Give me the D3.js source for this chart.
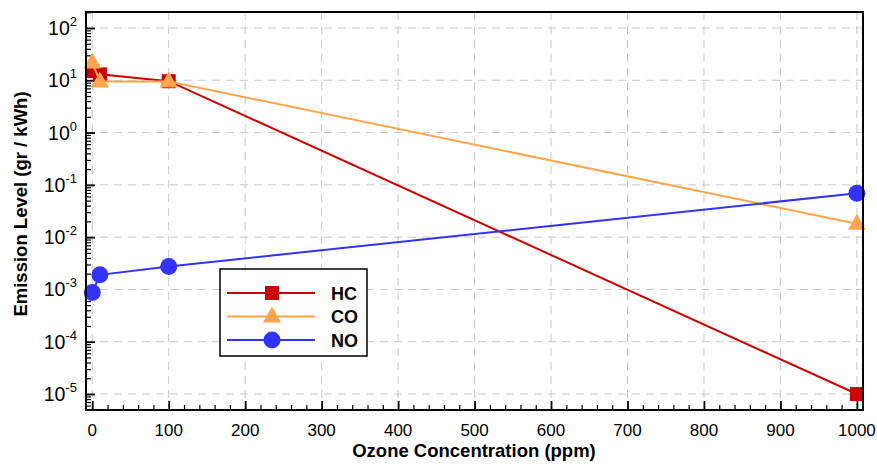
<!DOCTYPE html>
<html>
<head>
<meta charset="utf-8">
<script src="https://cdn.jsdelivr.net/npm/d3@7"></script>
<style>
  body { margin: 0; background: #fff; }
  svg { display: block; font-family: Arial, "Liberation Sans", sans-serif; }
</style>
</head>
<body>
<svg id="chart"></svg>
<script>
// data
const ozone = [0, 10, 100, 1000];
const hc = [15, 13, 9.6, 1e-5];
const co = [22, 9.5, 9.5, 0.018];
const no = [8.7e-4, 1.9e-3, 2.75e-3, 0.069];
const xTicks = [0, 100, 200, 300, 400, 500, 600, 700, 800, 900, 1000];
const yExps = [-5, -4, -3, -2, -1, 0, 1, 2];

const width = 877, height = 464;
const pLeft = 86, pRight = 863, pTop = 12, pBottom = 410;

const svg = d3.select('#chart').attr('width', width).attr('height', height);

const x = d3.scaleLinear().domain([-8.2, 1008]).range([pLeft, pRight]);
const y = d3.scaleLog().domain([Math.pow(10, -5.306), Math.pow(10, 2.306)]).range([pBottom, pTop]);

// grid
const grid = svg.append('g').attr('stroke', '#c8c8c8').attr('stroke-width', 1).attr('stroke-dasharray', '8,6');
grid.selectAll('.gx').data(xTicks).enter().append('line')
  .attr('x1', d => x(d)).attr('x2', d => x(d)).attr('y1', pTop).attr('y2', pBottom);
grid.selectAll('.gy').data(yExps).enter().append('line')
  .attr('x1', pLeft).attr('x2', pRight).attr('y1', d => y(Math.pow(10, d))).attr('y2', d => y(Math.pow(10, d)));

// minor ticks
const xMinor = d3.range(0, 1001, 20).filter(v => v % 100 !== 0);
const yMinor = [];
for (let e = -6; e <= 2; e++) for (let m = 2; m <= 9; m++) {
  const v = m * Math.pow(10, e);
  if (v > y.domain()[0] && v < y.domain()[1]) yMinor.push(v);
}

svg.append('g').attr('transform', `translate(0,${pBottom})`)
  .call(d3.axisBottom(x).tickValues(xMinor).tickSize(-5).tickFormat(''))
  .call(g => g.select('.domain').remove())
  .selectAll('line').attr('stroke', '#000').attr('stroke-width', 1.2);
svg.append('g').attr('transform', `translate(0,${pBottom})`)
  .call(d3.axisBottom(x).tickValues(xTicks).tickSize(-9).tickFormat(''))
  .call(g => g.select('.domain').remove())
  .selectAll('line').attr('stroke', '#000').attr('stroke-width', 1.8);

svg.append('g').attr('transform', `translate(${pLeft},0)`)
  .call(d3.axisLeft(y).tickValues(yMinor).tickSize(-5).tickFormat(''))
  .call(g => g.select('.domain').remove())
  .selectAll('line').attr('stroke', '#000').attr('stroke-width', 1.2);
svg.append('g').attr('transform', `translate(${pLeft},0)`)
  .call(d3.axisLeft(y).tickValues(yExps.map(e => Math.pow(10, e))).tickSize(-9).tickFormat(''))
  .call(g => g.select('.domain').remove())
  .selectAll('line').attr('stroke', '#000').attr('stroke-width', 1.8);

// tick labels
svg.append('g').selectAll('text').data(xTicks).enter().append('text')
  .attr('x', d => x(d)).attr('y', pBottom + 26)
  .attr('text-anchor', 'middle').attr('font-size', 17).text(d => d);

const yl = svg.append('g').selectAll('text').data(yExps).enter().append('text')
  .attr('x', 77).attr('y', d => y(Math.pow(10, d)) + 7)
  .attr('text-anchor', 'end').attr('font-size', 19.5);
yl.append('tspan').text('10');
yl.append('tspan').attr('font-size', 13).attr('dy', -9).text(d => d);

// lines and markers
const series = [
  { name: 'HC', values: hc, color: '#cc0000', shape: 'square' },
  { name: 'CO', values: co, color: '#ffa64d', shape: 'triangle' },
  { name: 'NO', values: no, color: '#3333ff', shape: 'circle' }
];

function marker(g, shape, color) {
  if (shape === 'square') {
    g.append('rect').attr('x', -7).attr('y', -7).attr('width', 14).attr('height', 14).attr('fill', color);
  } else if (shape === 'triangle') {
    g.append('path').attr('d', 'M0,-10L9,6L-9,6Z').attr('fill', color);
  } else {
    g.append('circle').attr('r', 8.5).attr('fill', color);
  }
}

const plot = svg.append('g');
const line = d3.line().x(d => x(d[0])).y(d => y(d[1]));
series.forEach(s => {
  const pts = ozone.map((o, i) => [o, s.values[i]]);
  plot.append('path').datum(pts).attr('d', line)
    .attr('fill', 'none').attr('stroke', s.color).attr('stroke-width', 2);
  plot.selectAll(null).data(pts).enter().append('g')
    .attr('transform', d => `translate(${x(d[0])},${y(d[1])})`)
    .each(function() { marker(d3.select(this), s.shape, s.color); });
});

// frame
svg.append('rect').attr('x', pLeft).attr('y', pTop).attr('width', pRight - pLeft).attr('height', pBottom - pTop)
  .attr('fill', 'none').attr('stroke', '#000').attr('stroke-width', 2);

// legend
const lg = svg.append('g').attr('transform', 'translate(220,269)');
lg.append('rect').attr('width', 147).attr('height', 87).attr('fill', '#fff').attr('stroke', '#000').attr('stroke-width', 1.5);
series.forEach((s, i) => {
  const ly = 24 + i * 23.5;
  lg.append('line').attr('x1', 7).attr('x2', 95).attr('y1', ly).attr('y2', ly)
    .attr('stroke', s.color).attr('stroke-width', 2);
  marker(lg.append('g').attr('transform', `translate(52,${ly})`), s.shape, s.color);
  lg.append('text').attr('x', 111).attr('y', ly + 6.5).attr('font-size', 18).attr('font-weight', 'bold').text(s.name);
});

// axis titles
svg.append('text').attr('x', 474).attr('y', 457).attr('text-anchor', 'middle')
  .attr('font-size', 18.5).attr('font-weight', 'bold').text('Ozone Concentration (ppm)');
svg.append('text').attr('transform', 'translate(27,204) rotate(-90)').attr('text-anchor', 'middle')
  .attr('font-size', 18.5).attr('font-weight', 'bold').text('Emission Level (gr / kWh)');
</script>
</body>
</html>
